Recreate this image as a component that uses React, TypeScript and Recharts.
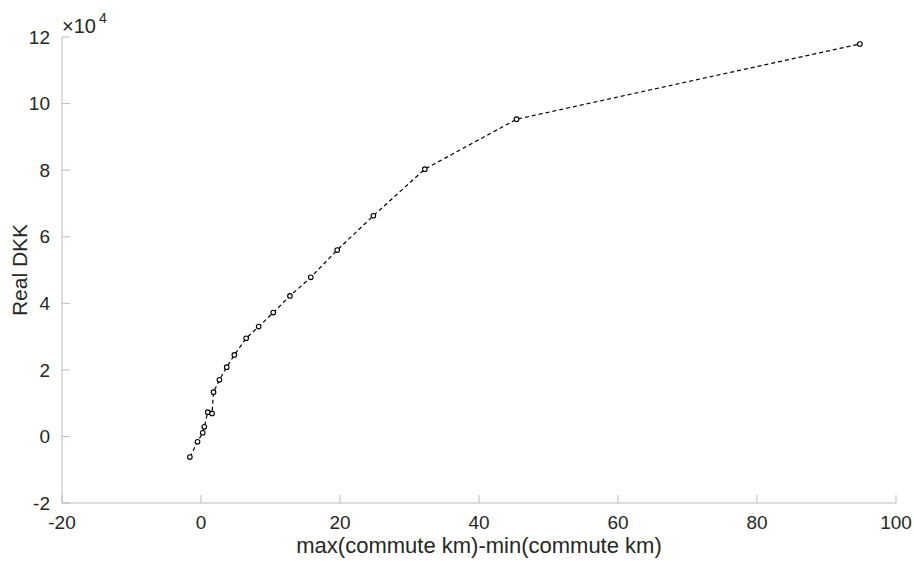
import { LineChart, Line, XAxis, YAxis } from 'recharts';

// commute distance spread (km) and real DKK
const spreadKm = [-1.6, -0.5, 0.25, 0.48, 0.97, 1.59, 1.8, 2.65, 3.7, 4.8, 6.5, 8.3, 10.4, 12.8, 15.8, 19.6, 24.8, 32.2, 45.4, 94.8];
const realDkk = [-6200, -1600, 1100, 2900, 7300, 6900, 13300, 17000, 20800, 24500, 29500, 33000, 37200, 42200, 47800, 56000, 66300, 80300, 95300, 117900];

const xTicks = [-20, 0, 20, 40, 60, 80, 100];
const yTicks = [-20000, 0, 20000, 40000, 60000, 80000, 100000, 120000];

const FONT = "Arial, 'Liberation Sans', Helvetica, sans-serif";
const AXIS = '#bcbcbc';
const TEXT = '#262626';

const rows = spreadKm.map((x, i) => ({ x, y: realDkk[i] }));

export default function App() {
  return (
    <div style={{ position: 'absolute', left: 0, top: 0, width: 914, height: 561, background: '#fff', fontFamily: FONT }}>
      <LineChart width={914} height={561} data={rows} margin={{ top: 37, right: 18, left: 0, bottom: 0 }}>
        <XAxis
          dataKey="x"
          type="number"
          domain={[-20, 100]}
          ticks={xTicks}
          interval={0}
          height={58}
          stroke={AXIS}
          tickSize={-8}
          tickMargin={21}
          tick={{ fill: TEXT, fontSize: 19, fontFamily: FONT }}
          label={{ value: 'max(commute km)-min(commute km)', position: 'insideBottom', offset: 8, fill: TEXT, fontSize: 22, fontFamily: FONT }}
        />
        <YAxis
          dataKey="y"
          type="number"
          domain={[-20000, 120000]}
          ticks={yTicks}
          interval={0}
          width={62}
          stroke={AXIS}
          tickSize={-8}
          tickMargin={20}
          tickFormatter={(v: number) => String(v / 10000)}
          tick={{ fill: TEXT, fontSize: 19, fontFamily: FONT }}
          label={{ value: 'Real DKK', angle: -90, position: 'insideLeft', offset: 20, textAnchor: 'middle', fill: TEXT, fontSize: 21, fontFamily: FONT }}
        />
        <Line
          dataKey="y"
          stroke="#000"
          strokeWidth={1.2}
          strokeDasharray="4 3"
          dot={{ r: 2.3, stroke: '#000', strokeWidth: 1.1, fill: '#fff', strokeDasharray: '' }}
          isAnimationActive={false}
        />
      </LineChart>
      <svg width={130} height={40} style={{ position: 'absolute', left: 0, top: 0, pointerEvents: 'none' }}>
        <text x={62} y={33} fill={TEXT} style={{ fontSize: 20, fontFamily: FONT }}>
          ×10
        </text>
        <text x={99} y={23} fill={TEXT} style={{ fontSize: 14, fontFamily: FONT }}>
          4
        </text>
      </svg>
    </div>
  );
}
